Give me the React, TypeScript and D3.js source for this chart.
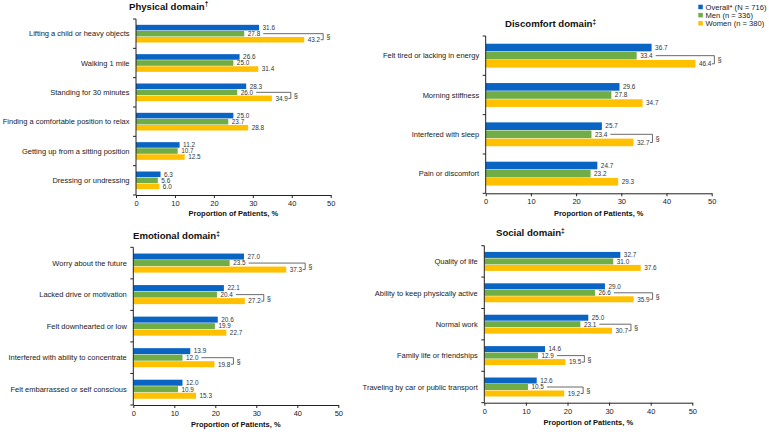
import React, { useEffect, useRef } from "react";
import * as d3 from "d3";

const physicalCategories = ["Lifting a child or heavy objects", "Walking 1 mile", "Standing for 30 minutes", "Finding a comfortable position to relax", "Getting up from a sitting position", "Dressing or undressing"];
const physicalOverall = [31.6, 26.6, 28.3, 25.0, 11.2, 6.3];
const physicalMen = [27.8, 25.0, 26.0, 23.7, 10.7, 5.6];
const physicalWomen = [43.2, 31.4, 34.9, 28.8, 12.5, 6.0];
const physicalSig = [true, false, true, false, false, false];

const discomfortCategories = ["Felt tired or lacking in energy", "Morning stiffness", "Interfered with sleep", "Pain or discomfort"];
const discomfortOverall = [36.7, 29.6, 25.7, 24.7];
const discomfortMen = [33.4, 27.8, 23.4, 23.2];
const discomfortWomen = [46.4, 34.7, 32.7, 29.3];
const discomfortSig = [true, false, true, false];

const emotionalCategories = ["Worry about the future", "Lacked drive or motivation", "Felt downhearted or low", "Interfered with ability to concentrate", "Felt embarrassed or self conscious"];
const emotionalOverall = [27.0, 22.1, 20.6, 13.9, 12.0];
const emotionalMen = [23.5, 20.4, 19.9, 12.0, 10.9];
const emotionalWomen = [37.3, 27.2, 22.7, 19.8, 15.3];
const emotionalSig = [true, true, false, true, false];

const socialCategories = ["Quality of life", "Ability to keep physically active", "Normal work", "Family life or friendships", "Traveling by car or public transport"];
const socialOverall = [32.7, 29.0, 25.0, 14.6, 12.6];
const socialMen = [31.0, 26.6, 23.1, 12.9, 10.5];
const socialWomen = [37.6, 35.9, 30.7, 19.5, 19.2];
const socialSig = [false, true, true, true, true];

const seriesKeys = ["overall", "men", "women"];
const seriesLabels = ["Overall* (N = 716)", "Men (n = 336)", "Women (n = 380)"];
const seriesColors = ["#0a64c4", "#70ad47", "#ffc000"];
const xTicks = [0, 10, 20, 30, 40, 50];
const axisTitle = "Proportion of Patients, %";

const FONT = "'Liberation Sans', Arial, Helvetica, sans-serif";

const panels = [
  { title: "Physical domain", mark: "†", cats: physicalCategories, vals: [physicalOverall, physicalMen, physicalWomen], sig: physicalSig,
    x0: 136, x1: 330.7, yTop: 19, yBot: 195, tx: 129, ty: 9.5, aty: 216 },
  { title: "Discomfort domain", mark: "‡", cats: discomfortCategories, vals: [discomfortOverall, discomfortMen, discomfortWomen], sig: discomfortSig,
    x0: 485.7, x1: 711.7, yTop: 36, yBot: 193.3, tx: 505, ty: 27.3, aty: 215.5 },
  { title: "Emotional domain", mark: "‡", cats: emotionalCategories, vals: [emotionalOverall, emotionalMen, emotionalWomen], sig: emotionalSig,
    x0: 133.3, x1: 338.3, yTop: 247.3, yBot: 405, tx: 133, ty: 239, aty: 427 },
  { title: "Social domain", mark: "‡", cats: socialCategories, vals: [socialOverall, socialMen, socialWomen], sig: socialSig,
    x0: 484.3, x1: 692.3, yTop: 245.7, yBot: 402.7, tx: 496, ty: 236, aty: 425 },
];

const VAL_FS = 6.4;
function labelWidth(s: string) {
  let w = 0;
  for (const c of s) w += c === "." ? 0.278 : 0.556;
  return w * VAL_FS;
}

export default function App() {
  const ref = useRef<SVGSVGElement>(null);
  useEffect(() => {
    const svg = d3.select(ref.current);
    svg.selectAll("*").remove();
    svg.attr("font-family", FONT);

    panels.forEach((p) => {
      const g = svg.append("g");
      const x = d3.scaleLinear().domain([0, 50]).range([p.x0, p.x1]);
      const y = d3.scaleBand<string>().domain(p.cats).range([p.yTop, p.yBot]);
      const bw = y.bandwidth();
      const groupH = bw * 0.62;
      const off = (bw - groupH) / 2;
      const yi = d3.scaleBand<string>().domain(seriesKeys).range([0, groupH]);
      const bh = yi.bandwidth();

      // title
      const t = g.append("text").attr("x", p.tx).attr("y", p.ty).attr("font-size", 9.6).attr("font-weight", "bold").attr("fill", "#111");
      t.append("tspan").text(p.title);
      t.append("tspan").attr("font-size", 6.5).attr("dy", -3.2).text(p.mark);

      // bars
      p.cats.forEach((c, i) => {
        seriesKeys.forEach((k, s) => {
          const v = p.vals[s][i];
          const by = (y(c) as number) + off + (yi(k) as number);
          g.append("rect").attr("x", x(0)).attr("y", by + 0.25).attr("width", x(v) - x(0)).attr("height", bh - 0.5).attr("fill", seriesColors[s]);
          g.append("text").attr("x", x(v) + 3.5).attr("y", by + bh / 2).attr("dy", "0.36em")
            .attr("font-size", VAL_FS).attr("fill", "#333").text(v.toFixed(1));
        });
        if (p.sig[i]) {
          const men = p.vals[1][i];
          const women = p.vals[2][i];
          const topY = (y(c) as number) + off + (yi("men") as number) + bh / 2;
          const botY = (y(c) as number) + off + (yi("women") as number) + bh / 2;
          const menEnd = x(men) + 3.5 + labelWidth(men.toFixed(1));
          const womenEnd = x(women) + 3.5 + labelWidth(women.toFixed(1));
          const vx = womenEnd + 3;
          const path = d3.path();
          path.moveTo(menEnd + 3, topY);
          path.lineTo(vx, topY);
          path.lineTo(vx, botY);
          path.lineTo(womenEnd + 0.5, botY);
          g.append("path").attr("d", path.toString()).attr("fill", "none").attr("stroke", "#444").attr("stroke-width", 0.8);
          g.append("text").attr("x", vx + 3).attr("y", (topY + botY) / 2).attr("dy", "0.36em")
            .attr("font-size", 7.5).attr("fill", "#333").text("§");
        }
      });

      // category labels
      p.cats.forEach((c) => {
        g.append("text").attr("x", p.x0 - 6.5).attr("y", (y(c) as number) + bw / 2).attr("dy", "0.36em")
          .attr("text-anchor", "end").attr("font-size", 7.5).attr("fill", "#222").text(c);
      });

      // y axis line with boundary ticks
      const yAxis = g.append("g");
      yAxis.append("line").attr("x1", p.x0).attr("x2", p.x0).attr("y1", p.yTop).attr("y2", p.yBot).attr("stroke", "#222").attr("stroke-width", 1);
      const bounds = p.cats.map((c) => y(c) as number).concat([p.yBot]);
      bounds.forEach((b) => {
        yAxis.append("line").attr("x1", p.x0 - 3).attr("x2", p.x0).attr("y1", b).attr("y2", b).attr("stroke", "#222").attr("stroke-width", 1);
      });

      // x axis
      const xa = g.append("g").attr("transform", `translate(0,${p.yBot})`)
        .call(d3.axisBottom(x).tickValues(xTicks).tickSize(3).tickSizeOuter(0).tickPadding(2.5));
      xa.select(".domain").attr("stroke", "#222");
      xa.selectAll(".tick line").attr("stroke", "#222");
      xa.selectAll(".tick text").attr("font-size", 7.5).attr("fill", "#222").attr("font-family", FONT);

      g.append("text").attr("x", (p.x0 + p.x1) / 2).attr("y", p.aty).attr("text-anchor", "middle")
        .attr("font-size", 7.5).attr("font-weight", "bold").attr("fill", "#111").text(axisTitle);
    });

    // legend
    const lg = svg.append("g");
    seriesLabels.forEach((l, i) => {
      const cy = 7 + i * 8.2;
      lg.append("rect").attr("x", 698.3).attr("y", cy - 2.3).attr("width", 4.5).attr("height", 4.5).attr("fill", seriesColors[i]);
      lg.append("text").attr("x", 705.5).attr("y", cy).attr("dy", "0.36em").attr("font-size", 7.6).attr("fill", "#222").text(l);
    });
  }, []);

  return (
    <svg ref={ref} width={769} height={432} style={{ position: "absolute", left: 0, top: 0, background: "#fff" }} />
  );
}
